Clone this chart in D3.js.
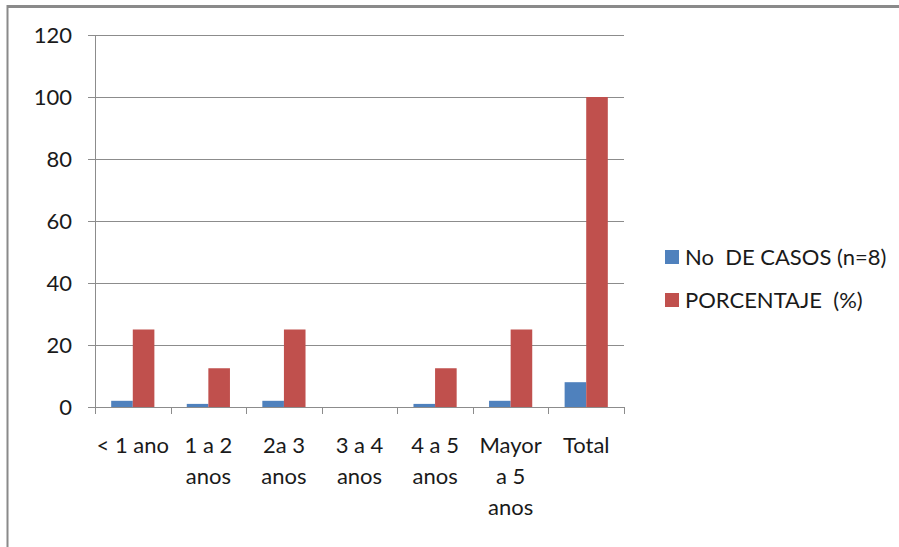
<!DOCTYPE html>
<html>
<head>
<meta charset="utf-8">
<script src="https://cdn.jsdelivr.net/npm/d3@7"></script>
<style>
  html, body { margin: 0; padding: 0; background: #fff; }
  svg { display: block; }
  text { font-family: Lato, "Liberation Sans", sans-serif; fill: #1a1a1a; }
</style>
</head>
<body>
<svg id="chart" width="899" height="547"></svg>
<script>
// Age groups (each label split into its wrapped lines)
const categories = ["< 1 ano", "1 a 2 anos", "2a 3 anos", "3 a 4 anos", "4 a 5 anos", "Mayor a 5 anos", "Total"];
const categoryLines = [["< 1 ano"], ["1 a 2", "anos"], ["2a 3", "anos"], ["3 a 4", "anos"], ["4 a 5", "anos"], ["Mayor", "a 5", "anos"], ["Total"]];
const seriesNames = ["No  DE CASOS (n=8)", "PORCENTAJE  (%)"];
const casos = [2, 1, 2, 0, 1, 2, 8];
const porcentaje = [25, 12.5, 25, 0, 12.5, 25, 100];
const yTicks = [0, 20, 40, 60, 80, 100, 120];
const colors = ["#4F81BD", "#C0504D"];

const svg = d3.select("#chart");

// Outer frame (top and left edges)
svg.append("line").attr("x1", 7).attr("x2", 899).attr("y1", 6.5).attr("y2", 6.5)
  .attr("stroke", "#8a8a8a").attr("stroke-width", 3);
svg.append("line").attr("x1", 7.5).attr("x2", 7.5).attr("y1", 5).attr("y2", 547)
  .attr("stroke", "#8a8a8a").attr("stroke-width", 2);

const plot = { left: 95, right: 624, top: 35, bottom: 407 };

const y = d3.scaleLinear().domain([0, 120]).range([plot.bottom, plot.top]);
const x0 = d3.scaleBand().domain(categories).range([plot.left, plot.right]).paddingInner(0).paddingOuter(0);
const x1 = d3.scaleBand().domain(seriesNames).range([0, x0.bandwidth()]).paddingInner(0).paddingOuter(0.75);

// Horizontal gridlines with left ticks
const yAxis = d3.axisLeft(y).tickValues(yTicks).tickSize(-(plot.right - plot.left)).tickPadding(23).tickFormat(d3.format("d"));
const gy = svg.append("g").attr("transform", `translate(${plot.left},0)`).call(yAxis);
gy.select(".domain").remove();
gy.selectAll(".tick line").attr("stroke", "#8c8c8c").attr("x1", -7);
gy.selectAll(".tick text").attr("font-size", 22).attr("fill", "#1a1a1a")
  .style("font-family", "Lato, 'Liberation Sans', sans-serif");

// Vertical axis line
svg.append("line").attr("x1", plot.left + 0.5).attr("x2", plot.left + 0.5)
  .attr("y1", plot.top).attr("y2", plot.bottom).attr("stroke", "#8c8c8c");

// Bars
const rows = categories.map((c, i) => ({ cat: c, vals: [casos[i], porcentaje[i]] }));
const groups = svg.append("g").selectAll("g").data(rows).join("g")
  .attr("transform", d => `translate(${x0(d.cat)},0)`);
groups.selectAll("rect").data(d => d.vals.map((v, k) => ({ k, v }))).join("rect")
  .attr("x", d => x1(seriesNames[d.k]))
  .attr("width", x1.bandwidth())
  .attr("y", d => y(d.v))
  .attr("height", d => plot.bottom - y(d.v))
  .attr("fill", d => colors[d.k]);

// Category axis with ticks at band boundaries
const bounds = categories.map(c => x0(c)).concat([plot.right]);
svg.append("line").attr("x1", plot.left).attr("x2", plot.right)
  .attr("y1", plot.bottom + 0.5).attr("y2", plot.bottom + 0.5).attr("stroke", "#8c8c8c");
svg.append("g").selectAll("line").data(bounds).join("line")
  .attr("x1", d => Math.round(d) + 0.5).attr("x2", d => Math.round(d) + 0.5)
  .attr("y1", plot.bottom).attr("y2", plot.bottom + 7).attr("stroke", "#8c8c8c");

// Category labels
const lab = svg.append("g").selectAll("text").data(categories).join("text")
  .attr("text-anchor", "middle").attr("font-size", 22)
  .attr("transform", d => `translate(${x0(d) + x0.bandwidth() / 2},453)`);
lab.each(function (d, i) {
  d3.select(this).selectAll("tspan").data(categoryLines[i]).join("tspan")
    .attr("x", 0).attr("y", (t, j) => j * 31).text(t => t);
});

// Legend
const legend = svg.append("g").attr("transform", "translate(665,250)");
const items = legend.selectAll("g").data(seriesNames).join("g")
  .attr("transform", (d, i) => `translate(0,${i * 43})`);
items.append("rect").attr("width", 14).attr("height", 14).attr("fill", (d, i) => colors[i]);
items.append("text").attr("x", 20).attr("y", 15).attr("font-size", 22)
  .style("white-space", "pre").text(d => d);
</script>
</body>
</html>
